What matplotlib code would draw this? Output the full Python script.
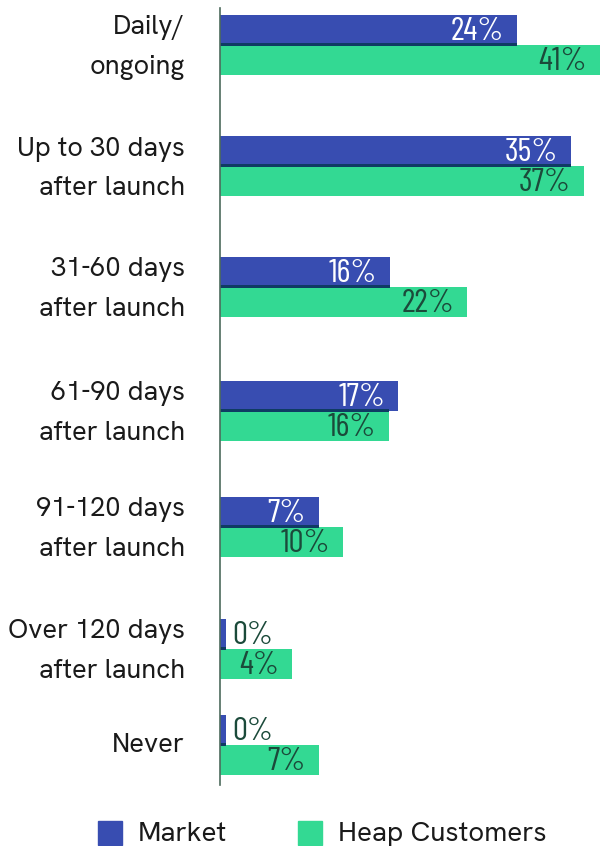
import matplotlib
matplotlib.use('Agg')
import matplotlib.pyplot as plt
from matplotlib.patches import Rectangle

#-------data-------
categories = ['Daily/\nongoing', 'Up to 30 days\nafter launch', '31-60 days\nafter launch',
              '61-90 days\nafter launch', '91-120 days\nafter launch',
              'Over 120 days\nafter launch', 'Never']
market_lbl = [24, 35, 16, 17, 7, 0, 0]
heap_lbl = [41, 37, 22, 16, 10, 4, 7]
# bar lengths as drawn in the picture (not strictly proportional to the labels)
market_bar = [29.7, 35.1, 17.0, 17.8, 9.9, 0.6, 0.6]
heap_bar = [38.0, 36.4, 24.7, 16.9, 12.3, 7.2, 9.9]
series = ['Market', 'Heap Customers']

#-------style-------
blue = '#384db1'
green = '#33d993'
dark = '#0f3b63'
txt_dark = '#1b4a3a'
group_top = [15, 136, 257, 381, 497, 619, 715]  # px from top
bh = 30
num_font = ['Barlow Condensed', 'DejaVu Sans']
plt.rcParams['font.family'] = ['Hanken Grotesk', 'DejaVu Sans']

fig = plt.figure(figsize=(6.01, 8.46), dpi=100)
ax = fig.add_axes([220/601, (846-785)/846, 381/601, 777/846])
ax.set_xlim(0, 38.1)
ax.set_ylim(785, 8)

for i, cat in enumerate(categories):
    t = group_top[i]
    ax.barh(t + bh/2, market_bar[i], height=bh, color=blue, left=0)
    ax.barh(t + bh + bh/2, heap_bar[i], height=bh, color=green, left=0)
    ax.barh(t + bh, min(market_bar[i], heap_bar[i]), height=3, color=dark, left=0)
    # value labels
    if market_bar[i] > 3:
        ax.text(market_bar[i] - 1.3, t + bh/2 + 2.5, f'{market_lbl[i]}%', ha='right', va='center',
                color='white', fontsize=24, family=num_font, fontweight='normal')
    else:
        ax.text(market_bar[i] + 0.6, t + bh/2 + 2.5, f'{market_lbl[i]}%', ha='left', va='center',
                color=txt_dark, fontsize=24, family=num_font, fontweight='normal')
    ax.text(heap_bar[i] - 1.3, t + bh*1.5 + 2.5, f'{heap_lbl[i]}%', ha='right', va='center',
            color=txt_dark, fontsize=24, family=num_font, fontweight='normal')
    # category labels
    lines = cat.split('\n')
    if len(lines) == 2:
        ax.text(-3.5, t + bh - 17, lines[0], ha='right', va='center', fontsize=19.5, color='#1a1a1a')
        ax.text(-3.5, t + bh + 23, lines[1], ha='right', va='center', fontsize=19.5, color='#1a1a1a')
    else:
        ax.text(-3.5, t + bh, lines[0], ha='right', va='center', fontsize=19.5, color='#1a1a1a')

for s in ['top', 'right', 'bottom']:
    ax.spines[s].set_visible(False)
ax.spines['left'].set_color('#4d6b5c')
ax.spines['left'].set_linewidth(1.2)
ax.set_xticks([])
ax.set_yticks([])
ax.patch.set_alpha(0)

#-------legend-------
for x0, col, name in [(98, blue, series[0]), (298, green, series[1])]:
    fig.patches.append(Rectangle((x0/601, 1/846), 24/601, 24/846, transform=fig.transFigure,
                                 color=col))
    fig.text((x0 + 40)/601, 12/846, name, ha='left', va='center', fontsize=20, color='#1a1a1a')

plt.savefig('out.png', dpi=100)
